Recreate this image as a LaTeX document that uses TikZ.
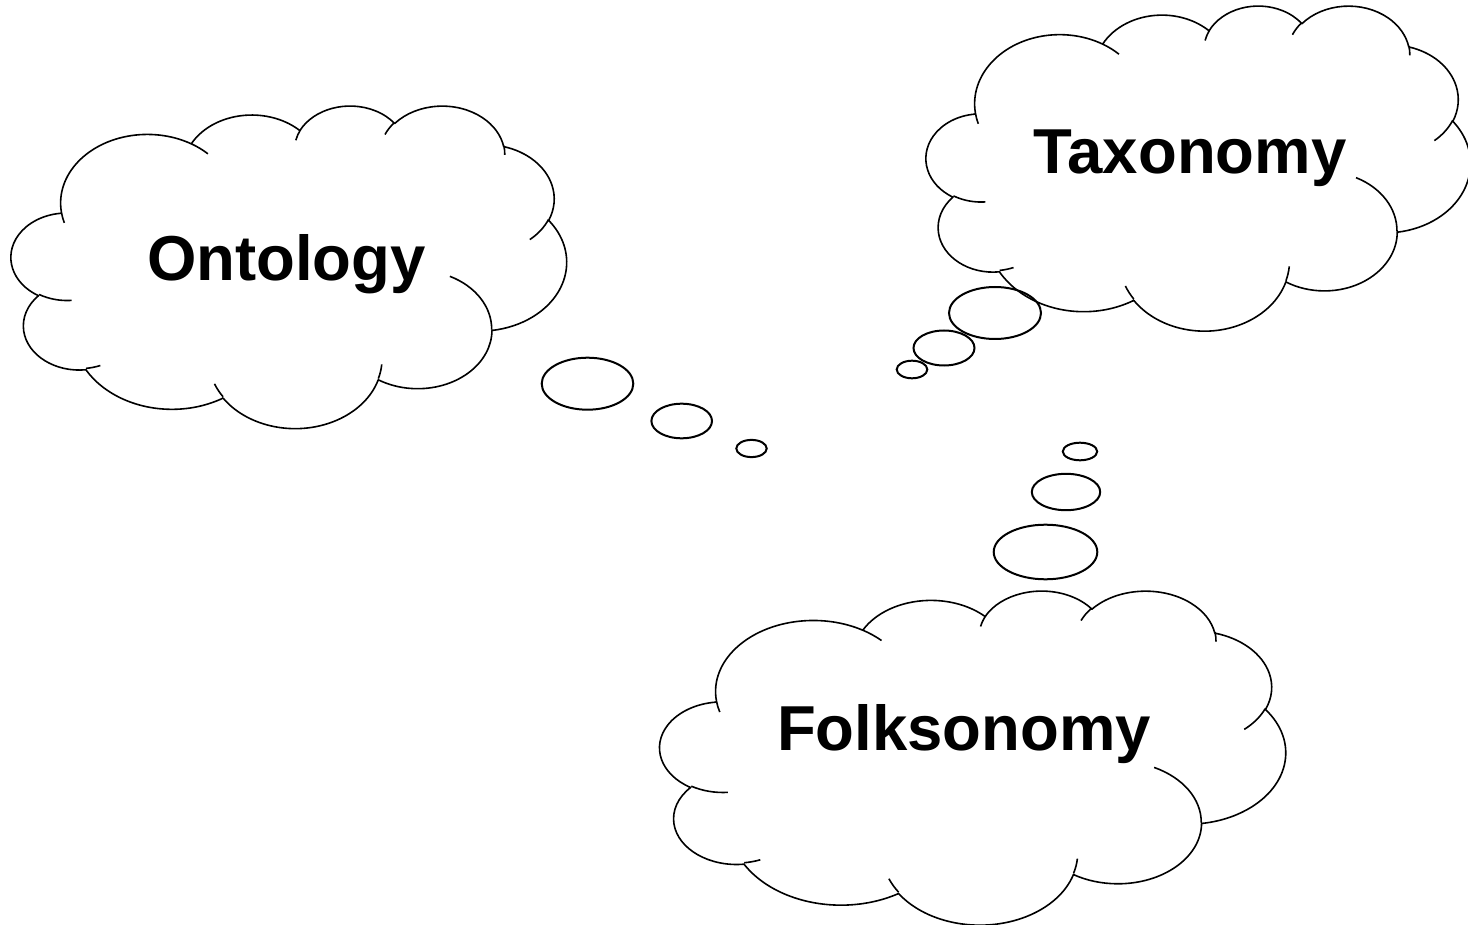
\documentclass[tikz,border=0pt]{standalone}
\usepackage{fontspec}
\setmainfont{Liberation Sans}
% arc of the cloud ellipse: wR, hR, start angle, sweep (visual angles, y down)
\newcommand\carc[4]{arc[x radius={#1*\cSX}, y radius={#2*\cSY}, start angle={-pa(#1,#2,#3)}, delta angle={-mod(pa(#1,#2,#3+#4)-pa(#1,#2,#3)+720,360)}]}
\newcommand\cpt[2]{({\cX+#1*\cSX},{-(\cY+#2*\cSY)})}
\newcommand\drawcloud[4]{%
  \pgfmathsetmacro\cX{#1}\pgfmathsetmacro\cY{#2}%
  \pgfmathsetmacro\cSX{#3/4320}\pgfmathsetmacro\cSY{#4/4320}%
  \draw[cloudline] \cpt{390}{1437}
    \carc{675.3}{919.0}{-190.4875}{123.7805}
    \carc{533.3}{726.7}{-144.1024}{89.9452}
    \carc{436.5}{594.5}{-145.8079}{99.7230}
    \carc{485.7}{659.5}{-130.9861}{117.2417}
    \carc{533.3}{727.3}{-78.7089}{109.0269}
    \carc{677.5}{922.0}{-46.2673}{130.2690}
    \carc{578.5}{786.7}{0.6250}{114.0333}
    \carc{675.2}{921.5}{22.4516}{115.1726}
    \carc{772.0}{1054.3}{66.2426}{75.7110}
    \carc{436.0}{591.8}{-274.9421}{146.7356}
    \carc{434.5}{594.5}{-246.8285}{152.5189}
    -- cycle
    \cpt{469.3}{2617.7} \carc{434.5}{594.5}{86.742}{26.4295}
    \cpt{692.8}{3489.9} \carc{436.0}{591.8}{73.6105}{11.4475}
    \cpt{1647.8}{3909.0} \carc{675.2}{921.5}{137.6242}{14.0811}
    \cpt{2882.7}{3475.1} \carc{675.2}{921.5}{6.4533}{15.9984}
    \cpt{3412.9}{2295.4} \carc{578.5}{786.7}{-70.2924}{70.9174}
    \cpt{4179.8}{1535.4} \carc{533.3}{727.3}{30.3180}{27.7515}
    \cpt{3832.4}{542.6} \carc{485.7}{659.5}{-13.7443}{14.8589}
    \cpt{2907.8}{395.2} \carc{485.7}{659.5}{-149.1815}{18.1954}
    \cpt{2214.1}{472.0} \carc{436.5}{594.5}{-163.4943}{17.6864}
    \cpt{1400.0}{519.2} \carc{675.3}{919.0}{-66.7070}{12.3194}
    \cpt{412.7}{1578.9} \carc{675.3}{919.0}{157.6544}{11.8539};%
}
\begin{document}
\begin{tikzpicture}[x=1pt,y=1pt,
  declare function={pa(\a,\b,\t)=atan2(\a*sin(\t),\b*cos(\t));},
  cloudline/.style={line width=1.6pt, line join=round},
  bubble/.style={draw, line width=2pt},
  cloudtext/.style={font=\bfseries\fontsize{63.5}{70}\selectfont, inner sep=0pt, anchor=base}]
\useasboundingbox (0,0) rectangle (1468,-925);
\clip (0,0) rectangle (1468,-925);
% clouds
\drawcloud{11.3}{105}{555.2}{322.5}
\drawcloud{926.3}{5}{544}{325}
\drawcloud{660}{590}{625.5}{334}
% bubbles
\draw[bubble] (587.5,-383.7) ellipse[x radius=45.8, y radius=26];
\draw[bubble] (681.7,-421) ellipse[x radius=30.3, y radius=17.3];
\draw[bubble] (751.5,-448.5) ellipse[x radius=15.2, y radius=8.6];
\draw[bubble] (995,-313) ellipse[x radius=46, y radius=26];
\draw[bubble] (944,-348) ellipse[x radius=30.5, y radius=17.5];
\draw[bubble] (912,-369.5) ellipse[x radius=15.3, y radius=8.8];
\draw[bubble] (1080,-451.5) ellipse[x radius=17.2, y radius=8.8];
\draw[bubble] (1066,-492) ellipse[x radius=34.2, y radius=18.2];
\draw[bubble] (1045.5,-552) ellipse[x radius=51.8, y radius=27.3];
% texts
\node[cloudtext] (ont) at (286.5,-281) {Ontology};
\node[cloudtext] (tax) at (1190,-174) {Taxonomy};
\node[cloudtext] (folk) at (964,-750) {Folksonomy};
\end{tikzpicture}
\end{document}
